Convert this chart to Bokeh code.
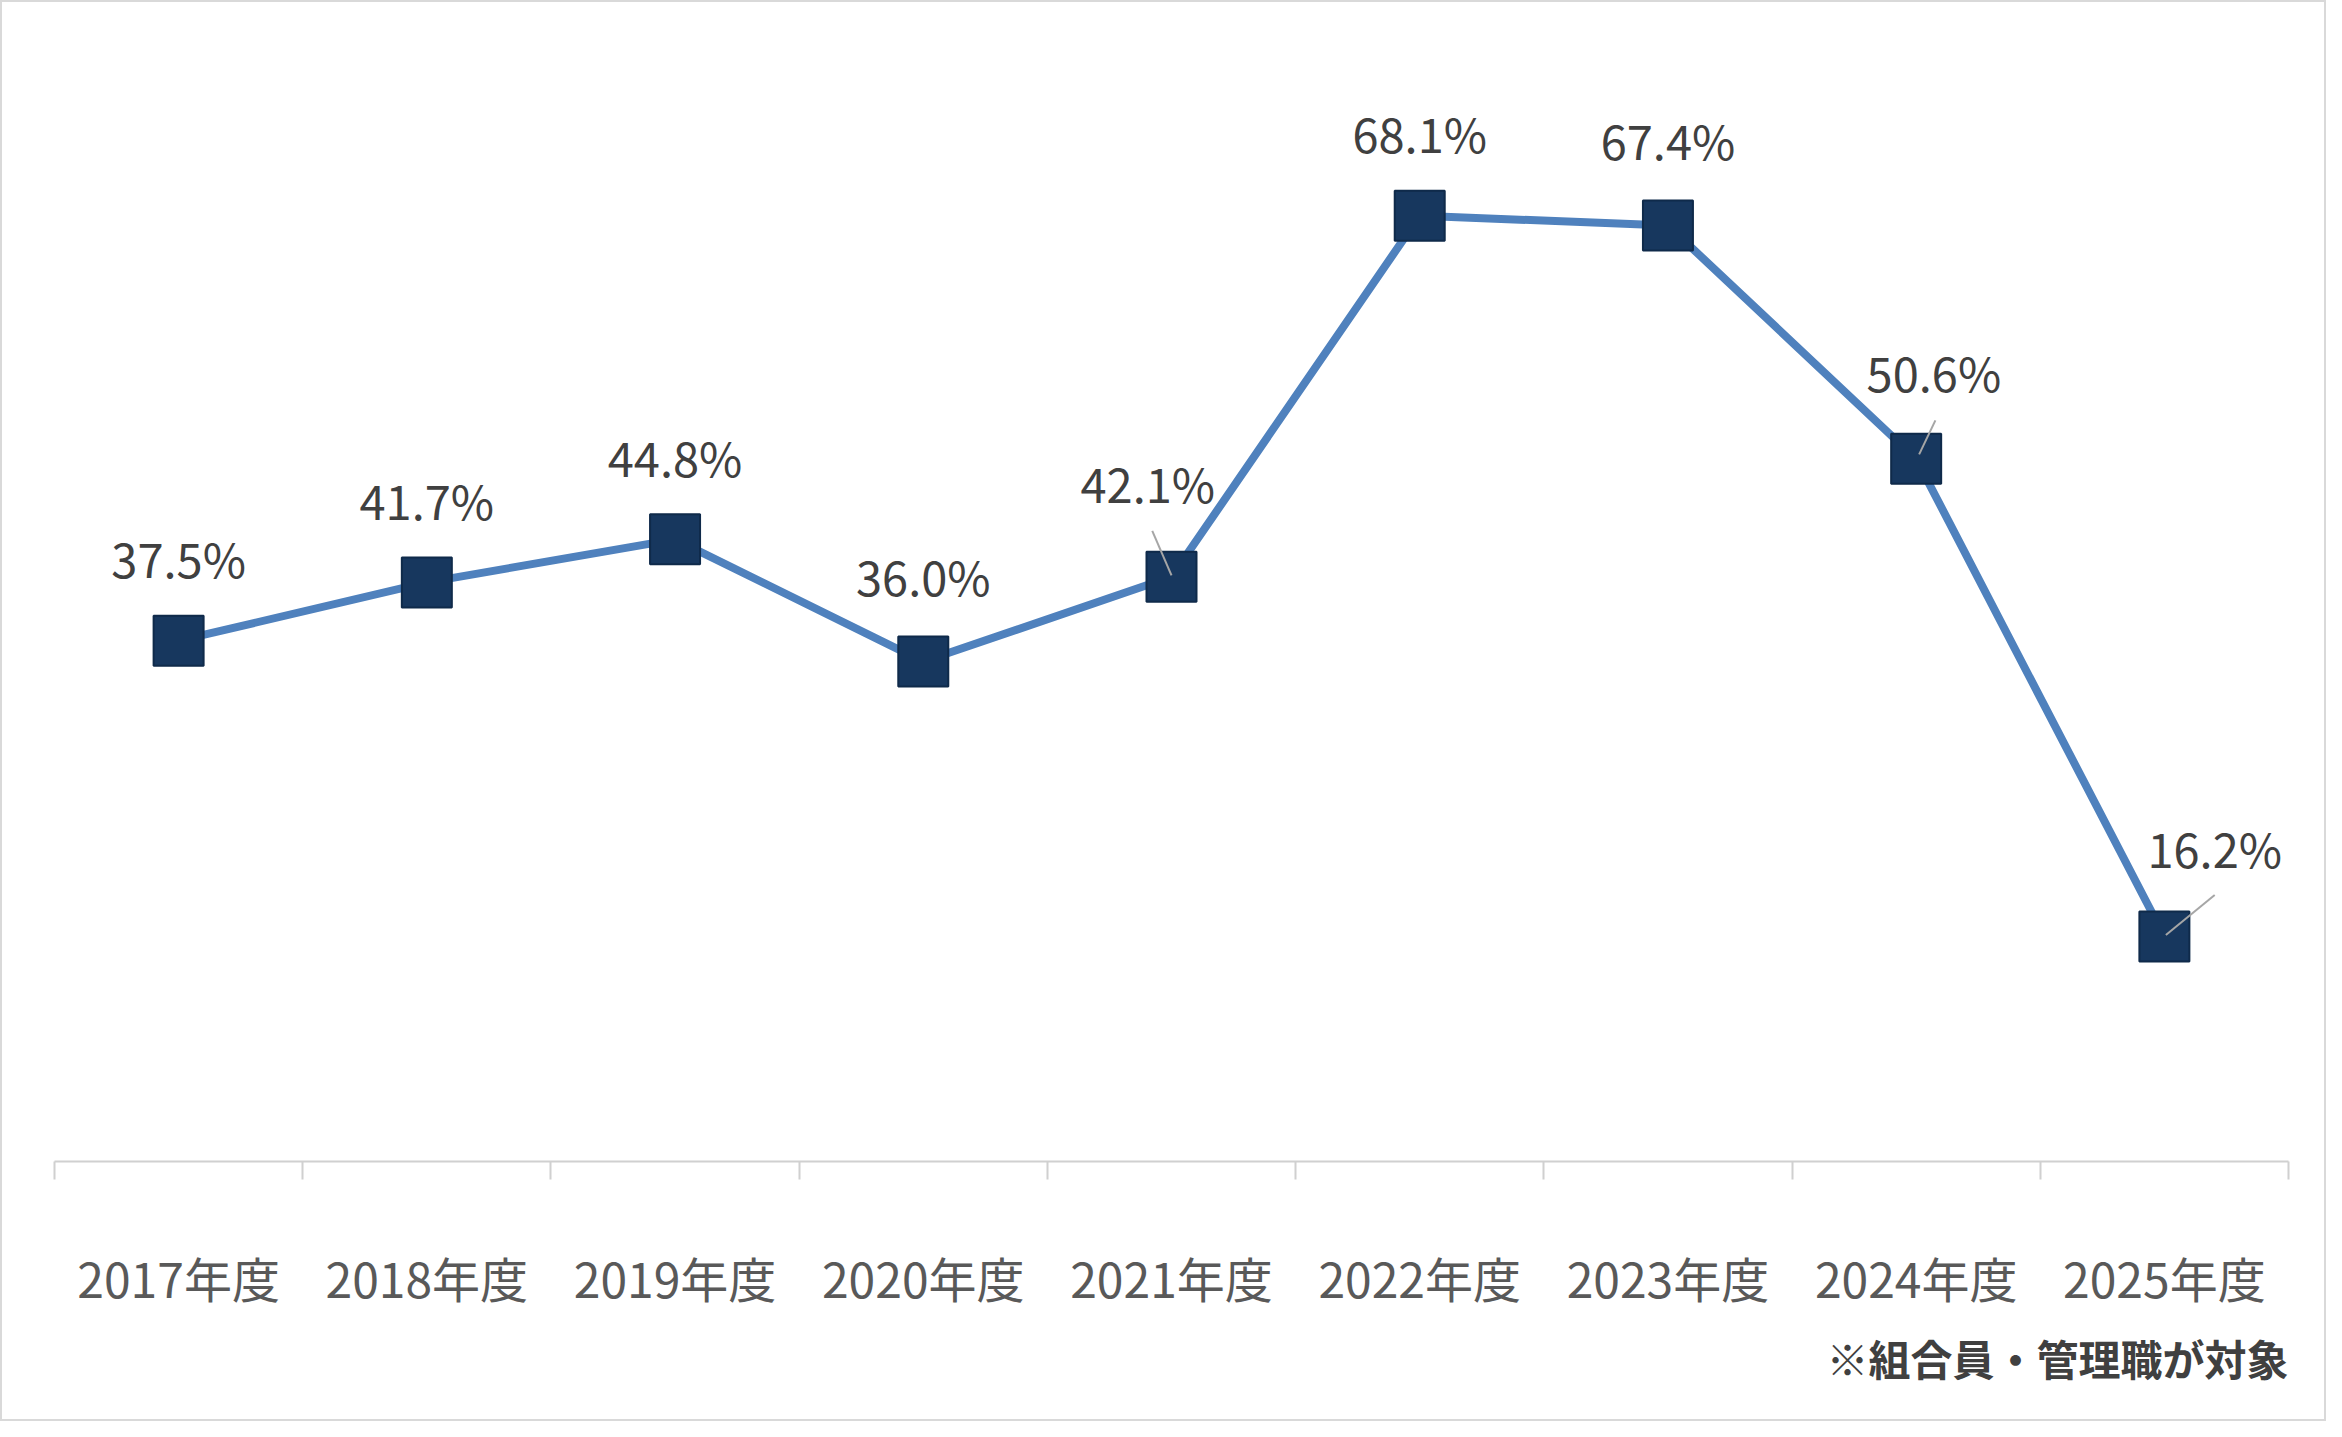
from bokeh.plotting import figure
from bokeh.models import FixedTicker, Range1d, Title, ColumnDataSource
from bokeh.core.properties import value
from bokeh.embed import file_html
from bokeh.resources import INLINE

years = ["2017年度", "2018年度", "2019年度", "2020年度", "2021年度", "2022年度", "2023年度", "2024年度", "2025年度"]
rates = [37.5, 41.7, 44.8, 36.0, 42.1, 68.1, 67.4, 50.6, 16.2]
note = "※組合員・管理職が対象"

FONT = "Noto Sans CJK JP"
S = 1.48
W, H = 2326, 1421
LB, RB, TB, BB = 52, 40, 48, 262
xs = [i + 0.5 for i in range(len(years))]
labels = [f"{v:.1f}%" for v in rates]

p = figure(width=W, height=H, output_backend="svg", toolbar_location=None,
           x_range=Range1d(0, len(years)), y_range=Range1d(0, 80),
           min_border_left=LB, min_border_right=RB, min_border_top=TB, min_border_bottom=BB)
p.styles = {"border": "2px solid #d9d9d9"}
p.outline_line_color = None
p.grid.visible = False
p.yaxis.visible = False

ax = p.xaxis[0]
ax.ticker = FixedTicker(ticks=xs, minor_ticks=list(range(len(years) + 1)))
ax.major_label_overrides = {x: y for x, y in zip(xs, years)}
ax.major_tick_line_color = None
ax.minor_tick_line_color = "#d0d0d0"
ax.minor_tick_line_width = 2
ax.minor_tick_out = 18
ax.minor_tick_in = 0
ax.axis_line_color = "#d0d0d0"
ax.axis_line_width = 2
ax.major_label_standoff = 62
ax.major_label_text_font = FONT
ax.major_label_text_font_size = "48px"
ax.major_label_text_color = "#595959"

p.add_layout(Title(text=note, align="right", text_font=FONT, text_font_size="42px",
                   text_font_style="bold", text_color="#404040", standoff=20), "below")

p.line(xs, rates, line_color="#4f81bd", line_width=8)
p.scatter(xs, rates, marker="square", size=50, fill_color="#17375e", line_color="#0f2a4a", line_width=2)

dx = [0, 0, 0, 0, -16, 0, 0, 12, 34]
dy = [56, 56, 56, 58, 64, 56, 58, 59, 60]
src = ColumnDataSource(dict(x=xs, y=rates, t=labels,
                            xo=[d * S for d in dx], yo=[-d * S for d in dy]))
p.text("x", "y", text="t", x_offset="xo", y_offset="yo", source=src,
       text_font=value(FONT), text_font_size="47px", text_color="#404040",
       text_align="center", text_baseline="middle")

lead_idx = [4, 7, 8]
lead_x0 = {4: -13, 7: 13, 8: 34}
lead_y0 = {4: 31, 7: 26, 8: 28}
lead_x1 = {4: 0, 7: 2, 8: 1}
lead_y1 = {4: 1, 7: 3, 8: 1}
px_x = len(years) / (W - LB - RB)
px_y = 80 / (H - TB - BB)
for i in lead_idx:
    p.segment(xs[i] + lead_x0[i] * S * px_x, rates[i] + lead_y0[i] * S * px_y,
              xs[i] + lead_x1[i] * S * px_x, rates[i] + lead_y1[i] * S * px_y,
              line_color="#a6a6a6", line_width=2)

open("out.html", "w").write(file_html(p, INLINE))
